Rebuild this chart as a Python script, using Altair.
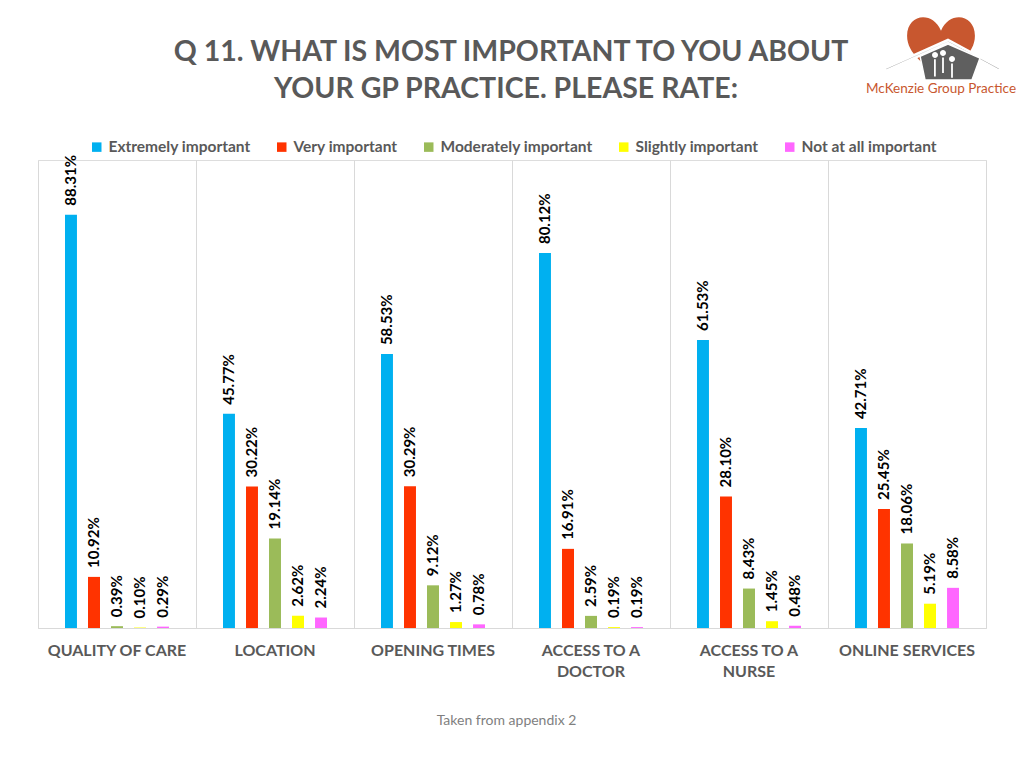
import altair as alt
import pandas as pd

categories = ["QUALITY OF CARE", "LOCATION", "OPENING TIMES",
              "ACCESS TO A DOCTOR", "ACCESS TO A NURSE", "ONLINE SERVICES"]
series = ["Extremely important", "Very important", "Moderately important",
          "Slightly important", "Not at all important"]
colors = ["#00b0f0", "#ff3300", "#9bbb59", "#ffff00", "#ff66ff"]

extremely = [88.31, 45.77, 58.53, 80.12, 61.53, 42.71]
very = [10.92, 30.22, 30.29, 16.91, 28.10, 25.45]
moderately = [0.39, 19.14, 9.12, 2.59, 8.43, 18.06]
slightly = [0.10, 2.62, 1.27, 0.19, 1.45, 5.19]
not_at_all = [0.29, 2.24, 0.78, 0.19, 0.48, 8.58]

title_lines = ["Q 11. WHAT IS MOST IMPORTANT TO YOU ABOUT", "YOUR GP PRACTICE. PLEASE RATE:"]

values = [extremely, very, moderately, slightly, not_at_all]
rows = []
for s, vals in zip(series, values):
    for c, v in zip(categories, vals):
        rows.append({"category": c, "series": s, "value": v})
df = pd.DataFrame(rows)

FONT = "Lato"
GRAY = "#595959"

x = alt.X("category:N", sort=categories,
          scale=alt.Scale(paddingInner=0, paddingOuter=0),
          axis=alt.Axis(
              title="Taken from appendix 2", titleFont=FONT, titleFontWeight="normal",
              titleFontSize=14, titleColor="#7f7f7f", titlePadding=34, titleX=468,
              labelFont=FONT, labelFontWeight="bold", labelFontSize=16,
              labelColor=GRAY, labelAngle=0, labelPadding=14, labelLineHeight=21,
              labelLimit=300,
              labelExpr="split(replace(datum.label, 'TO A ', 'TO A|'), '|')",
              ticks=False, domainColor="#d9d9d9", grid=True, gridColor="#d9d9d9",
              bandPosition=0))
xo = alt.XOffset("series:N", sort=series,
                 scale=alt.Scale(paddingInner=0.48, paddingOuter=0, range=[27, 131]))
y = alt.Y("value:Q", scale=alt.Scale(domain=[0, 100]),
          axis=alt.Axis(orient="right", labels=False, ticks=False, grid=False,
                        domainColor="#d9d9d9", title=None))
color = alt.Color("series:N", sort=series,
                  scale=alt.Scale(domain=series, range=colors),
                  legend=alt.Legend(title=None, orient="none", legendX=51, legendY=-21,
                                    direction="horizontal", columns=5,
                                    symbolType="square", symbolSize=90,
                                    symbolStrokeWidth=0, labelFont=FONT,
                                    labelFontWeight="bold", labelFontSize=15.5,
                                    labelColor=GRAY, columnPadding=23,
                                    labelOffset=4, labelLimit=300))

base = alt.Chart(df)
bars = base.mark_bar().encode(x=x, xOffset=xo, y=y, color=color)
labels = base.transform_calculate(
    lbl="format(datum.value, '.2f') + '%'"
).mark_text(angle=270, align="left", baseline="middle", dx=9,
            font=FONT, fontWeight="bold", fontSize=15, color="#000000").encode(
    x=x, xOffset=xo, y=y, text="lbl:N")

# title lines
t_df = pd.DataFrame({"t": [title_lines[0]]})
t2_df = pd.DataFrame({"t": [title_lines[1]]})
title1 = alt.Chart(t_df).mark_text(
    font=FONT, fontSize=28.5, fontWeight="bold", color=GRAY, align="center", baseline="middle"
).encode(x=alt.value(473), y=alt.value(-108), text="t:N")
title2 = alt.Chart(t2_df).mark_text(
    font=FONT, fontSize=28.5, fontWeight="bold", color=GRAY, align="center", baseline="middle"
).encode(x=alt.value(468), y=alt.value(-71), text="t:N")

# logo (decorative)
logo_df = pd.DataFrame({"t": ["McKenzie Group Practice"]})
heart = alt.Chart(logo_df).mark_point(
    shape="M0,-0.45 C-0.25,-1.05 -1,-0.95 -1,-0.3 C-1,0.25 -0.45,0.55 0,1 C0.45,0.55 1,0.25 1,-0.3 C1,-0.95 0.25,-1.05 0,-0.45 Z",
    filled=True, color="#c8572f", opacity=1, size=4600
).encode(x=alt.value(903), y=alt.value(-114))
roof = alt.Chart(logo_df).mark_point(
    shape="M-0.917,0.217 L0.133,-0.25 L1,0.217 L1,0.267 L0.133,-0.2 L-0.917,0.267 Z",
    filled=True, fill="#6a6a6a", stroke="white", strokeWidth=2.5, opacity=1, size=14400
).encode(x=alt.value(902), y=alt.value(-105))
house = alt.Chart(logo_df).mark_point(
    shape="M-0.333,0.02 L0.133,-0.183 L0.667,0.05 L0.533,0.417 L-0.25,0.417 Z",
    filled=True, fill="#5f5f5f", stroke="white", strokeWidth=1.5, opacity=1, size=14400
).encode(x=alt.value(902), y=alt.value(-105))
people = alt.Chart(logo_df).mark_point(
    shape=("M-0.133,0 a0.05,0.05 0 1,0 0.1,0 a0.05,0.05 0 1,0 -0.1,0 "
           "M0,-0.033 a0.05,0.05 0 1,0 0.1,0 a0.05,0.05 0 1,0 -0.1,0 "
           "M0.15,0.067 a0.05,0.05 0 1,0 0.1,0 a0.05,0.05 0 1,0 -0.1,0 "
           "M-0.1,0.07 L-0.07,0.07 L-0.07,0.36 L-0.1,0.36 Z "
           "M0.035,0.04 L0.065,0.04 L0.065,0.3 L0.035,0.3 Z "
           "M0.185,0.14 L0.215,0.14 L0.215,0.38 L0.185,0.38 Z"),
    filled=True, fill="white", strokeWidth=0, opacity=1, size=14400
).encode(x=alt.value(902), y=alt.value(-105))
logo_text = alt.Chart(logo_df).mark_text(
    font=FONT, fontSize=13.5, color="#c8572f", align="center", baseline="middle"
).encode(x=alt.value(903), y=alt.value(-71), text="t:N")

chart = alt.layer(bars, labels, title1, title2, heart, roof, house, people, logo_text).properties(
    width=948, height=468,
    autosize=alt.AutoSizeParams(type="none"),
    padding={"left": 30, "top": 152, "right": 30, "bottom": 130},
).configure_view(stroke=None).configure(background="white")

chart.save("out.html", embed_options={"renderer": "svg", "actions": False})
